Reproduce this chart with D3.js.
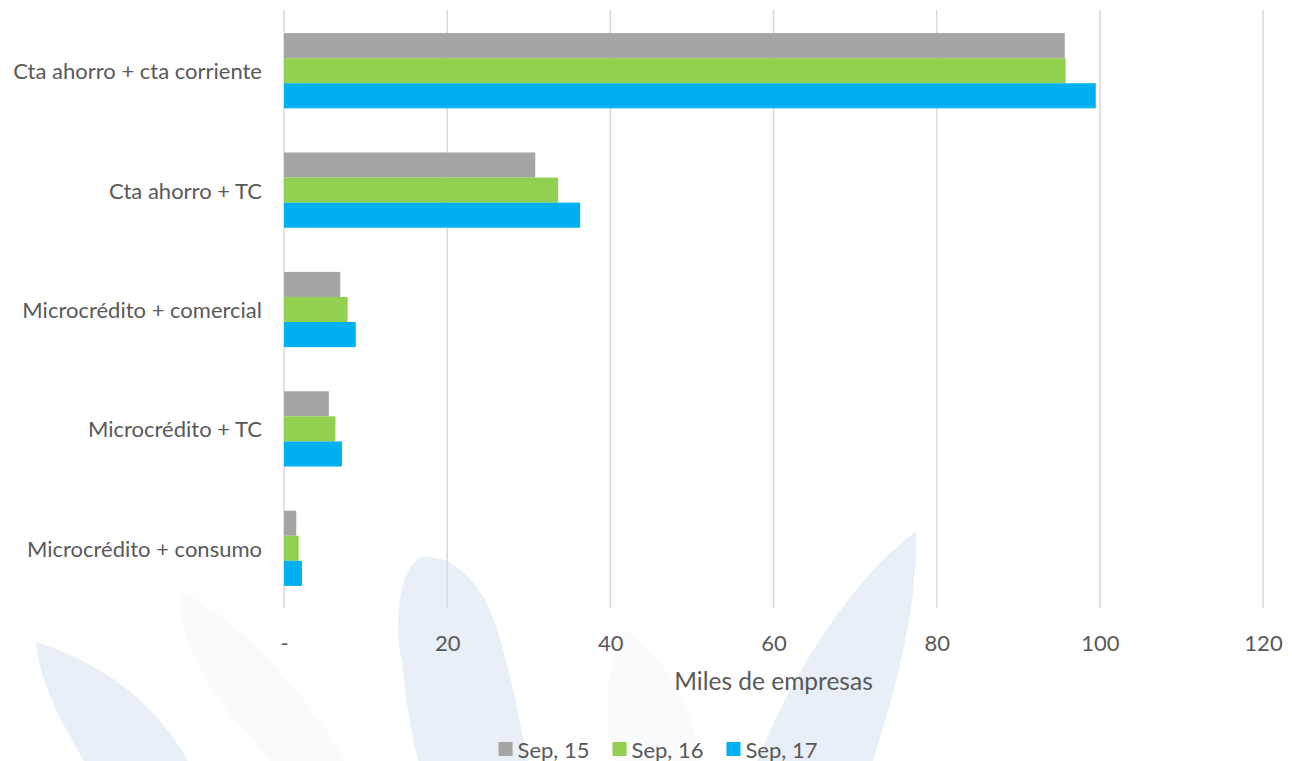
<!DOCTYPE html>
<html>
<head>
<meta charset="utf-8">
<script src="https://cdn.jsdelivr.net/npm/d3@7"></script>
<style>
html,body{margin:0;padding:0;background:#fff;}
svg{display:block;}
text{font-family:Lato,"Open Sans",sans-serif;fill:#595959;}
</style>
</head>
<body>
<svg id="chart" width="1292" height="761"></svg>
<script>
// ---- data ----
const categories = ["Cta ahorro + cta corriente","Cta ahorro + TC","Microcrédito + comercial","Microcrédito + TC","Microcrédito + consumo"];
const seriesNames = ["Sep, 15","Sep, 16","Sep, 17"];
const sep15 = [95.7, 30.8, 6.9, 5.5, 1.5];
const sep16 = [95.8, 33.6, 7.8, 6.3, 1.8];
const sep17 = [99.5, 36.3, 8.8, 7.1, 2.2];
const xTicks = [0,20,40,60,80,100,120];
const xTickLabels = ["-","20","40","60","80","100","120"];
const axisTitle = "Miles de empresas";

const seriesValues = [sep15, sep16, sep17];
const colors = ["#A5A5A5","#92D050","#00B0F0"];

const svg = d3.select("#chart");
const plotL = 284, plotR = 1263, plotT = 11, plotB = 608;

// decorative watermark leaves (background)
const decor = svg.append("g");
const leaves = [
  {d:"M180,590 C175,650 230,720 270,761 L345,761 C310,700 250,625 180,590 Z", f:"#FAFBFD"},
  {d:"M625,630 C600,680 605,730 615,761 L700,761 C695,715 670,660 625,630 Z", f:"#FAFBFD"},
  {d:"M423,557 C395,565 395,640 402,660 C405,700 412,735 418,761 L528,761 C515,700 505,640 485,600 C470,575 450,555 423,557 Z", f:"#E8EFF7"},
  {d:"M916,531 C845,585 790,680 757,761 L873,761 C895,690 918,610 916,531 Z", f:"#E8EFF7"},
  {d:"M36,642 C40,690 70,735 84,761 L188,761 C160,710 110,665 36,642 Z", f:"#E8EFF7"}
];
decor.selectAll("path").data(leaves).join("path")
  .attr("d", d=>d.d).attr("fill", d=>d.f);

// scales
const x = d3.scaleLinear().domain([0,120]).range([plotL,plotR]);
const y = d3.scaleBand().domain(categories).range([plotT,plotB]).paddingInner(0.37).paddingOuter(0.185);
const ySub = d3.scaleBand().domain(seriesNames).range([0,y.bandwidth()]);

// gridlines
svg.append("g").selectAll("line").data(xTicks).join("line")
  .attr("x1", d=>x(d)).attr("x2", d=>x(d))
  .attr("y1", 10).attr("y2", plotB)
  .attr("stroke","#D9D9D9").attr("stroke-width",1.5);

// bars
const groups = svg.append("g").selectAll("g").data(categories).join("g")
  .attr("transform", d=>`translate(0,${y(d)})`);
groups.selectAll("rect").data((c,i)=>seriesNames.map((s,j)=>({s, v:seriesValues[j][i], j})))
  .join("rect")
  .attr("x", x(0)).attr("y", d=>ySub(d.s))
  .attr("width", d=>x(d.v)-x(0)).attr("height", ySub.bandwidth())
  .attr("fill", d=>colors[d.j]);

// category labels
svg.append("g").selectAll("text").data(categories).join("text")
  .attr("x", 262).attr("y", d=>y(d)+y.bandwidth()/2)
  .attr("text-anchor","end").attr("dominant-baseline","central")
  .attr("font-size", 22).text(d=>d);

// x axis tick labels
const xAxis = d3.axisBottom(x).tickValues(xTicks).tickFormat((d,i)=>xTickLabels[i]).tickSize(0).tickPadding(0);
const ax = svg.append("g").attr("transform",`translate(0,${plotB})`).call(xAxis);
ax.select(".domain").remove();
ax.selectAll("text").attr("font-size",22).attr("fill","#595959")
  .attr("dy",null).attr("y",34).attr("dominant-baseline","central")
  .style("font-family","Lato, 'Open Sans', sans-serif");

// axis title
svg.append("text").attr("x",(plotL+plotR)/2).attr("y",680)
  .attr("text-anchor","middle").attr("dominant-baseline","central")
  .attr("font-size",24.5).text(axisTitle);

// legend
const lg = svg.append("g");
const items = lg.selectAll("g").data(seriesNames).join("g");
items.append("rect").attr("width",14).attr("height",14).attr("y",-7).attr("fill",(d,i)=>colors[i]);
items.append("text").attr("x",19).attr("dominant-baseline","central").attr("font-size",22).text(d=>d);
let cx = 0; const offs = [];
const gap = 23;
items.each(function(){ offs.push(cx); cx += this.getBBox().width + gap; });
cx -= gap;
items.attr("transform",(d,i)=>`translate(${offs[i]},0)`);
lg.attr("transform",`translate(${658 - cx/2},749)`);
</script>
</body>
</html>
